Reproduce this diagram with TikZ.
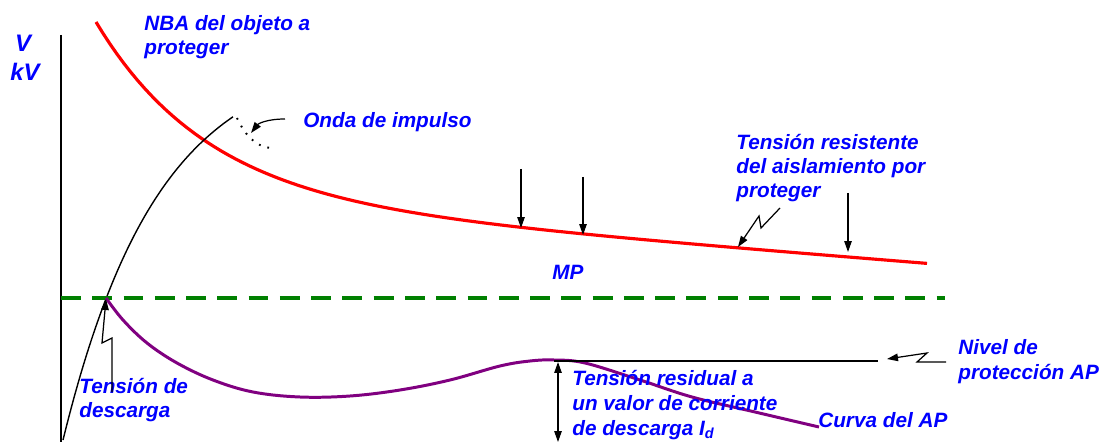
\documentclass[tikz,border=0pt]{standalone}
\usepackage{fontspec}
\setmainfont{Liberation Sans}
\usetikzlibrary{arrows.meta}
\definecolor{lblue}{RGB}{0,0,255}
\definecolor{nbared}{RGB}{255,0,0}
\definecolor{mpgreen}{RGB}{0,128,0}
\definecolor{apurple}{RGB}{128,0,128}
\begin{document}
\begin{tikzpicture}[x=0.02cm,y=-0.02cm,
  lbl/.style={font=\fontsize{11.8}{13.9}\selectfont\bfseries\itshape, text=lblue, inner sep=0pt, anchor=base west},
  axlbl/.style={font=\fontsize{13.6}{16}\selectfont\bfseries\itshape, text=lblue, inner sep=0pt, anchor=base},
  arr/.style={-{Triangle[length=0.22cm,width=0.15cm]}, line width=0.7pt, black},
  darr/.style={{Triangle[length=0.22cm,width=0.15cm]}-{Triangle[length=0.22cm,width=0.15cm]}, line width=0.7pt, black},
  nbacurve/.style={nbared, line width=1.8pt},
  apcurve/.style={apurple, line width=1.7pt},
  mpline/.style={mpgreen, line width=1.9pt, dash pattern=on 11.3pt off 6.5pt},
  thin/.style={black, line width=0.8pt}]
\useasboundingbox (0,0) rectangle (1102,442);

% axis
\coordinate (axtop) at (61,35);
\coordinate (axbot) at (61,442);
\draw[line width=0.9pt] (axtop) -- (axbot);
\node[axlbl] (lv) at (23,52) {V};
\node[axlbl] (lkv) at (25,81) {kV};

% NBA curve
\draw[nbacurve] plot[domain=96:927, samples=120] (\x, {22+175*(1-exp(-(\x-96)/110))+0.08*(\x-96)});

% impulse wave
\draw[thin] plot[domain=63:233, samples=80] (\x, {440-388*(1-exp(-(\x-63)/95))});
\draw[line width=1.1pt, dash pattern=on 1pt off 4pt] (237,118) .. controls (245,135) and (255,146) .. (270,148);

% MP level
\coordinate (mpl) at (61,298);
\coordinate (mpr) at (945,298);
\draw[mpline] (mpl) -- (mpr);

% AP curve
\draw[apcurve] plot[smooth, tension=0.6] coordinates {(106,298) (123,320) (147,343) (177,363) (213,380) (253,392) (300,397) (350,396) (400,390) (450,380) (500,366) (530,361) (554,360) (585,363) (640,380) (692,397) (755,412) (819,427)};

% protection level line
\coordinate (pl1) at (554,361);
\coordinate (pl2) at (878,361);
\draw[thin] (pl1) -- (pl2);

% labels
\node[lbl] (nba1) at (144,31) {NBA del objeto a};
\node[lbl] (nba2) at (144,55) {proteger};
\node[lbl] (onda) at (303,128) {Onda de impulso};
\node[lbl] (tr1) at (736,150) {Tensión resistente};
\node[lbl] (tr2) at (736,174) {del aislamiento por};
\node[lbl] (tr3) at (736,198) {proteger};
\node[lbl] (mp) at (552,279) {MP};
\node[lbl] (td1) at (79,393) {Tensión de};
\node[lbl] (td2) at (79,417) {descarga};
\node[lbl] (np1) at (958,354) {Nivel de};
\node[lbl] (np2) at (958,379) {protección AP};
\node[lbl] (rs1) at (572,385) {Tensión residual a};
\node[lbl] (rs2) at (572,410) {un valor de corriente};
\node[lbl] (rs3) at (572,435) {de descarga I\textsubscript{d}};
\node[lbl] (cap) at (818,427) {Curva del AP};

% arrows
\coordinate (oa1) at (285,119);
\coordinate (oa2) at (251,133);
\draw[arr] (oa1) .. controls (266,119) and (258,124) .. (oa2);

\coordinate (d1s) at (521,169); \coordinate (d1e) at (521,228);
\coordinate (d2s) at (583,177); \coordinate (d2e) at (583,235);
\coordinate (d3s) at (848,193); \coordinate (d3e) at (848,252);
\draw[arr] (d1s) -- (d1e);
\draw[arr] (d2s) -- (d2e);
\draw[arr] (d3s) -- (d3e);

\coordinate (ts) at (780,208); \coordinate (te) at (738,247);
\draw[arr] (ts) -- (761,228) -- (759,216) -- (te);

\coordinate (ds) at (112,392); \coordinate (de) at (106,299);
\draw[arr] (ds) -- (112,338) -- (102,343) -- (de);

\coordinate (ns) at (946,362); \coordinate (ne) at (887,359);
\draw[arr] (ns) -- (917,362) -- (927,353) -- (ne);

\coordinate (vs) at (558,362); \coordinate (ve) at (558,442);
\draw[darr] (vs) -- (ve);
\end{tikzpicture}
\end{document}
